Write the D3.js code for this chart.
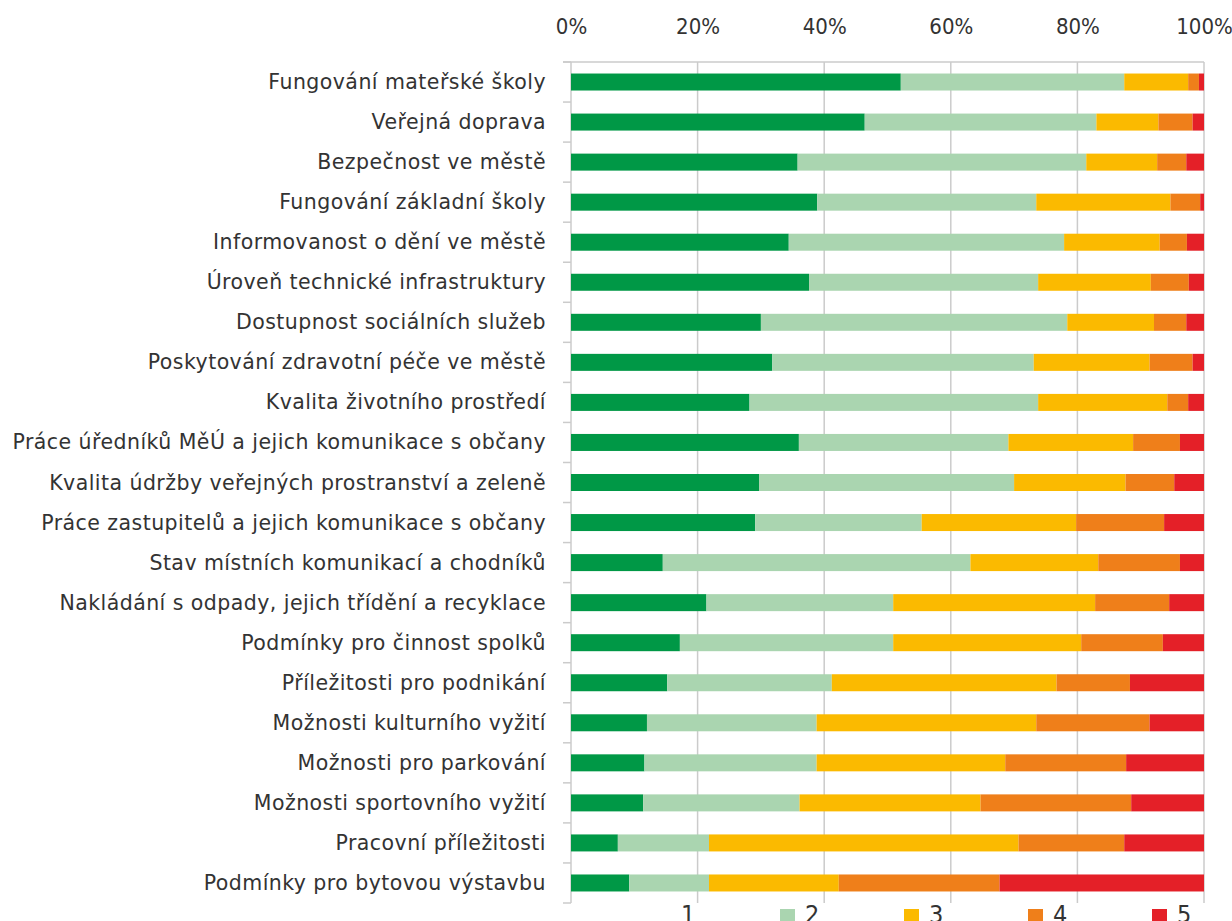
<!DOCTYPE html>
<html>
<head>
<meta charset="utf-8">
<script src="https://cdn.jsdelivr.net/npm/d3@7"></script>
<style>
  body { margin: 0; background: #fff; }
  svg text { font-family: "DejaVu Sans Condensed", "DejaVu Sans", sans-serif; fill: #333; }
  svg text.cat { font-family: "DejaVu Sans", sans-serif; letter-spacing: 0.45px; }
</style>
</head>
<body>
<div id="chart"></div>
<script>
'use strict';

// data (percent shares of answers 1..5)
var categories = [
  "Fungování mateřské školy",
  "Veřejná doprava",
  "Bezpečnost ve městě",
  "Fungování základní školy",
  "Informovanost o dění ve městě",
  "Úroveň technické infrastruktury",
  "Dostupnost sociálních služeb",
  "Poskytování zdravotní péče ve městě",
  "Kvalita životního prostředí",
  "Práce úředníků MěÚ a jejich komunikace s občany",
  "Kvalita údržby veřejných prostranství a zeleně",
  "Práce zastupitelů a jejich komunikace s občany",
  "Stav místních komunikací a chodníků",
  "Nakládání s odpady, jejich třídění a recyklace",
  "Podmínky pro činnost spolků",
  "Příležitosti pro podnikání",
  "Možnosti kulturního vyžití",
  "Možnosti pro parkování",
  "Možnosti sportovního vyžití",
  "Pracovní příležitosti",
  "Podmínky pro bytovou výstavbu"
];

var series = ["1", "2", "3", "4", "5"];

var s1 = [52.1, 46.4, 35.8, 38.9, 34.4, 37.6, 30.0, 31.8, 28.2, 36.0, 29.7, 29.1, 14.5, 21.4, 17.2, 15.2, 12.0, 11.6, 11.4, 7.4, 9.2];
var s2 = [35.3, 36.6, 45.6, 34.6, 43.5, 36.2, 48.4, 41.3, 45.6, 33.1, 40.3, 26.3, 48.6, 29.5, 33.7, 26.0, 26.8, 27.2, 24.7, 14.4, 12.6];
var s3 = [10.1, 9.8, 11.2, 21.2, 15.1, 17.8, 13.7, 18.3, 20.4, 19.7, 17.6, 24.4, 20.2, 31.9, 29.7, 35.5, 34.7, 29.8, 28.6, 48.9, 20.5];
var s4 = [1.7, 5.4, 4.6, 4.7, 4.3, 6.0, 5.1, 6.8, 3.3, 7.4, 7.7, 13.9, 12.9, 11.7, 12.9, 11.6, 17.9, 19.1, 23.8, 16.7, 25.4];
var s5 = [0.8, 1.8, 2.8, 0.6, 2.7, 2.4, 2.8, 1.8, 2.5, 3.8, 4.7, 6.3, 3.8, 5.5, 6.5, 11.7, 8.6, 12.3, 11.5, 12.6, 32.3];

var xTicks = [0, 20, 40, 60, 80, 100];
var colors = ["#009846", "#aad5b0", "#fbba00", "#ef7f1a", "#e42028"];

// layout
var width = 1232,
    height = 921,
    margin = { top: 62, right: 28, bottom: 18, left: 571 },
    barHeight = 17,
    gridColor = "#cbcbcb";

var table = categories.map(function (c, i) {
  return { cat: c, "1": s1[i], "2": s2[i], "3": s3[i], "4": s4[i], "5": s5[i] };
});

var stacked = d3.stack().keys(series)(table);

var x = d3.scaleLinear()
    .domain([0, 100])
    .range([margin.left, width - margin.right]);

var y = d3.scaleBand()
    .domain(categories)
    .range([margin.top, height - margin.bottom]);

var vis = d3.select("#chart")
  .append("svg")
    .attr("width", width)
    .attr("height", height);

// gridlines
vis.append("g")
  .selectAll("line")
  .data(xTicks)
  .enter().append("line")
    .attr("x1", function (d) { return x(d); })
    .attr("x2", function (d) { return x(d); })
    .attr("y1", margin.top)
    .attr("y2", height - margin.bottom)
    .attr("stroke", gridColor)
    .attr("stroke-width", 1.5);

// top line
vis.append("line")
    .attr("x1", margin.left - 8)
    .attr("x2", x(100))
    .attr("y1", margin.top)
    .attr("y2", margin.top)
    .attr("stroke", gridColor)
    .attr("stroke-width", 1.5);

// category ticks at band boundaries
var bounds = categories.map(function (c) { return y(c); }).concat([height - margin.bottom]);
vis.append("g")
  .selectAll("line")
  .data(bounds)
  .enter().append("line")
    .attr("x1", margin.left - 8)
    .attr("x2", margin.left)
    .attr("y1", function (d) { return d; })
    .attr("y2", function (d) { return d; })
    .attr("stroke", gridColor)
    .attr("stroke-width", 1.5);

// x axis labels (top)
var xAxis = d3.axisTop(x)
    .tickValues(xTicks)
    .tickSize(0)
    .tickPadding(0)
    .tickFormat(function (d) { return d + "%"; });

var gx = vis.append("g")
    .attr("transform", "translate(0,34)")
    .call(xAxis);
gx.select(".domain").remove();
gx.selectAll("text")
    .attr("dy", 0)
    .style("font-size", "22px");

// bars
var layers = vis.append("g")
  .selectAll("g.layer")
  .data(stacked)
  .enter().append("g")
    .attr("class", "layer")
    .attr("fill", function (d, i) { return colors[i]; });

layers.selectAll("rect")
    .data(function (d) { return d; })
  .enter().append("rect")
    .attr("x", function (d) { return x(d[0]); })
    .attr("width", function (d) { return x(d[1]) - x(d[0]); })
    .attr("y", function (d) { return y(d.data.cat) + (y.bandwidth() - barHeight) / 2; })
    .attr("height", barHeight);

// category labels
vis.append("g")
  .selectAll("text")
  .data(categories)
  .enter().append("text")
    .attr("class", "cat")
    .attr("x", 546)
    .attr("y", function (d) { return y(d) + y.bandwidth() / 2 + 7; })
    .attr("text-anchor", "end")
    .style("font-size", "20.5px")
    .text(function (d) { return d; });

// legend (first swatch not shown in the original)
var legend = vis.append("g")
  .selectAll("g")
  .data(series)
  .enter().append("g")
    .attr("transform", function (d, i) { return "translate(" + (656 + i * 124) + ",909)"; });

legend.filter(function (d, i) { return i > 0; })
  .append("rect")
    .attr("width", 15)
    .attr("height", 15)
    .attr("fill", function (d) { return colors[series.indexOf(d)]; });

legend.append("text")
    .attr("x", 25)
    .attr("y", 14)
    .style("font-size", "25px")
    .text(function (d) { return d; });
</script>
</body>
</html>
